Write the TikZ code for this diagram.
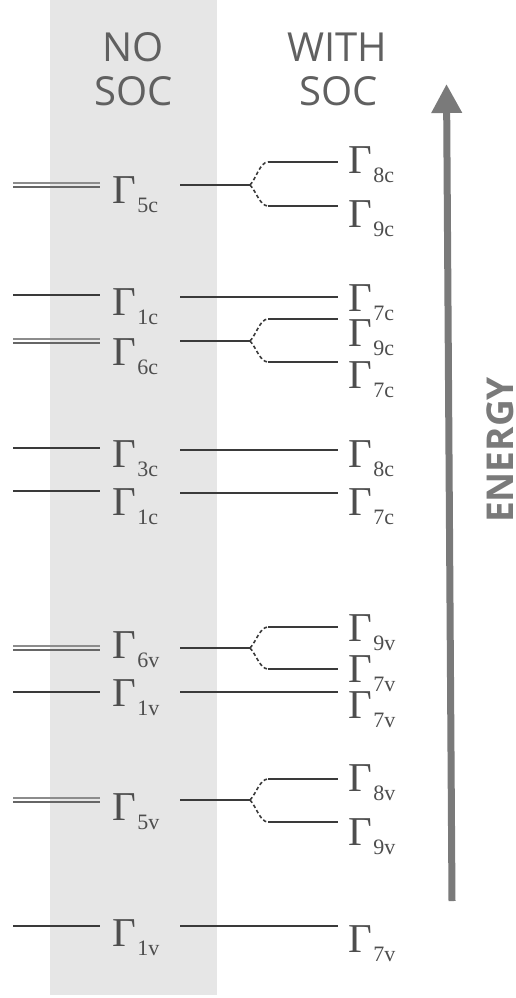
\documentclass[tikz,border=0pt]{standalone}
\usepackage{fontspec}
\setmainfont{Liberation Serif}
\newfontfamily\headfont{Open Sans}
\usetikzlibrary{arrows.meta}
\definecolor{band}{HTML}{E6E6E6}
\definecolor{lev}{HTML}{3A3A3A}
\definecolor{head}{HTML}{606060}
\definecolor{arr}{HTML}{7A7A7A}
\newcommand\glev[1]{{\fontsize{41}{41}\selectfont \char"0393}\kern1.5pt\raisebox{-9pt}{\fontsize{22}{22}\selectfont #1}}
\begin{document}
\begin{tikzpicture}[x=1pt,y=-1pt,
  glab/.style={anchor=base west,inner sep=0pt,text=lev!90},
  levline/.style={draw=lev,line width=1.5pt},
  dbl/.style={line width=1.3pt},
  splitd/.style={draw=lev,line width=1.6pt,dash pattern=on 3.5pt off 2.5pt},
  hd/.style={font=\headfont\fontsize{40}{40}\selectfont,text=head,anchor=base,inner sep=0pt}]
\useasboundingbox (0,0) rectangle (516,998);
\fill[band] (50,0) rectangle (217,995);
% headers
\node[hd] (no) at (133,62) {NO};
\node[hd] (soc1) at (133.5,105) {SOC};
\node[hd] (with) at (337,62) {WITH};
\node[hd] (soc2) at (338.5,105) {SOC};
% energy arrow
\coordinate (ab) at (452,901);
\coordinate (at) at (446.5,84);
\draw[arr,line width=7pt,-{Triangle[length=29pt,width=29pt]}] (ab) -- (at);
\node[rotate=90,font=\headfont\bfseries\fontsize{37}{37}\selectfont,text=arr,inner sep=0pt] (en) at (500,450) {ENERGY};
% ---------- left (no SOC) labels ----------
\node[glab] (L5c) at (112,203) {\glev{5c}};
\node[glab] (L1c) at (112,315) {\glev{1c}};
\node[glab] (L6c) at (112,365) {\glev{6c}};
\node[glab] (L3c) at (112,467) {\glev{3c}};
\node[glab] (L1cb) at (112,515) {\glev{1c}};
\node[glab] (L6v) at (112,658) {\glev{6v}};
\node[glab] (L1v) at (112,706) {\glev{1v}};
\node[glab] (L5v) at (112,820) {\glev{5v}};
\node[glab] (L1vb) at (112,946) {\glev{1v}};
% ---------- right (with SOC) labels ----------
\node[glab] (R8c) at (348,173) {\glev{8c}};
\node[glab] (R9c) at (348,227) {\glev{9c}};
\node[glab] (R7c) at (348,311) {\glev{7c}};
\node[glab] (R9cb) at (348,346) {\glev{9c}};
\node[glab] (R7cb) at (348,388) {\glev{7c}};
\node[glab] (R8cb) at (348,467) {\glev{8c}};
\node[glab] (R7cc) at (348,515) {\glev{7c}};
\node[glab] (R9v) at (348,641) {\glev{9v}};
\node[glab] (R7v) at (348,682) {\glev{7v}};
\node[glab] (R7vb) at (348,718) {\glev{7v}};
\node[glab] (R8v) at (348,791) {\glev{8v}};
\node[glab] (R9vb) at (348,845) {\glev{9v}};
\node[glab] (R7vc) at (348,952) {\glev{7v}};
% ---------- left level lines ----------
\foreach \y in {295,448,491,692,926}{
  \draw[levline] (13,\y) -- (100,\y);
}
\foreach \y in {185,341,648,800}{
  \draw[dbl,draw=black!45] (13,\y-2) -- (100,\y-2);
  \draw[dbl,draw=black!60] (13,\y+2) -- (100,\y+2);
}
% ---------- right single levels ----------
\foreach \y in {297,450,493,692,926}{
  \draw[levline] (180,\y) -- (338,\y);
}
% ---------- splittings ----------
\foreach \y/\u/\d in {185/162/206,341/319/362,648/627/669,800/779/822}{
  \draw[levline] (180,\y) -- (250,\y);
  \draw[splitd] (250,\y) .. controls (256,\y-6) and (260,\u) .. (268,\u);
  \draw[splitd] (250,\y) .. controls (256,\y+6) and (260,\d) .. (268,\d);
  \draw[levline] (268,\u) -- (338,\u);
  \draw[levline] (268,\d) -- (338,\d);
}
\end{tikzpicture}
\end{document}
